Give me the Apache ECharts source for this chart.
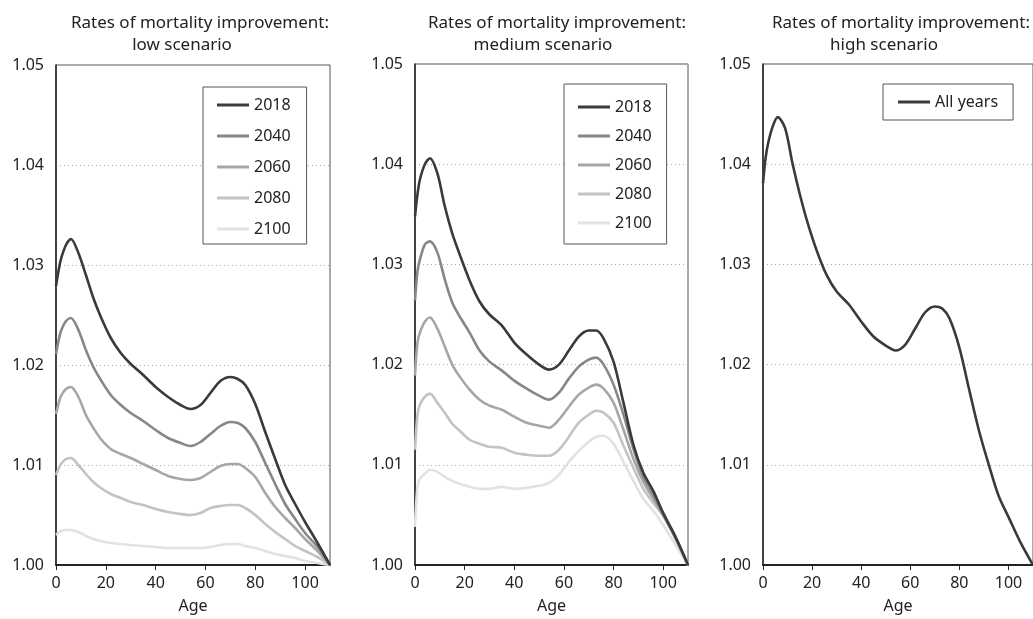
<!DOCTYPE html>
<html>
<head>
<meta charset="utf-8">
<title>Rates of mortality improvement</title>
<script src="https://cdn.jsdelivr.net/npm/echarts@6/dist/echarts.min.js"></script>
<style>
  html, body { margin: 0; padding: 0; background: #fff; }
  #chart { width: 1033px; height: 619px; }
</style>
</head>
<body>
<div id="chart"></div>
<script>
// ages (shared by all three panels)
const ages = [0, 1, 2, 4, 6, 9, 12, 15, 18, 22, 26, 30, 35, 40, 45, 50, 54, 58, 62, 66, 70, 73, 76, 80, 84, 88, 92, 96, 100, 105, 110]

const years = ['2018', '2040', '2060', '2080', '2100']
const yearColors = ['#3a3a3a', '#878787', '#a6a6a6', '#c3c3c3', '#e2e2e2']

// low scenario
const low2018 = [1.0279, 1.0294, 1.0306, 1.0320, 1.0326, 1.0312, 1.0290, 1.0267, 1.0248, 1.0227, 1.0212, 1.0201, 1.0190, 1.0178, 1.0168, 1.0160, 1.0156, 1.0160, 1.0172, 1.0184, 1.0188, 1.0186, 1.0180, 1.0161, 1.0133, 1.0106, 1.0080, 1.0061, 1.0043, 1.0022, 1.0000]
const low2040 = [1.0211, 1.0224, 1.0234, 1.0244, 1.0247, 1.0235, 1.0215, 1.0198, 1.0185, 1.0170, 1.0160, 1.0152, 1.0144, 1.0135, 1.0127, 1.0122, 1.0119, 1.0123, 1.0131, 1.0139, 1.0143, 1.0142, 1.0137, 1.0123, 1.0102, 1.0081, 1.0061, 1.0046, 1.0032, 1.0018, 1.0000]
const low2060 = [1.0151, 1.0161, 1.0169, 1.0176, 1.0178, 1.0168, 1.0150, 1.0137, 1.0126, 1.0116, 1.0111, 1.0107, 1.0101, 1.0095, 1.0089, 1.0086, 1.0085, 1.0087, 1.0093, 1.0099, 1.0101, 1.0101, 1.0097, 1.0088, 1.0072, 1.0058, 1.0047, 1.0037, 1.0026, 1.0014, 1.0000]
const low2080 = [1.0090, 1.0096, 1.0101, 1.0106, 1.0107, 1.0100, 1.0091, 1.0083, 1.0077, 1.0071, 1.0067, 1.0063, 1.0060, 1.0056, 1.0053, 1.0051, 1.0050, 1.0052, 1.0057, 1.0059, 1.0060, 1.0060, 1.0057, 1.0050, 1.0041, 1.0033, 1.0026, 1.0019, 1.0014, 1.0008, 1.0000]
const low2100 = [1.0030, 1.0032, 1.0034, 1.0035, 1.0035, 1.0033, 1.0029, 1.0026, 1.0024, 1.0022, 1.0021, 1.0020, 1.0019, 1.0018, 1.0017, 1.0017, 1.0017, 1.0017, 1.0018, 1.0020, 1.0021, 1.0021, 1.0019, 1.0017, 1.0014, 1.0011, 1.0009, 1.0007, 1.0004, 1.0002, 1.0000]

// medium scenario
const med2018 = [1.0348, 1.0370, 1.0385, 1.0400, 1.0406, 1.0391, 1.0358, 1.0331, 1.0310, 1.0284, 1.0263, 1.0250, 1.0239, 1.0222, 1.0210, 1.0200, 1.0195, 1.0200, 1.0214, 1.0228, 1.0234, 1.0234, 1.0226, 1.0203, 1.0162, 1.0120, 1.0092, 1.0074, 1.0052, 1.0028, 1.0000]
const med2040 = [1.0264, 1.0293, 1.0305, 1.0320, 1.0323, 1.0312, 1.0285, 1.0262, 1.0248, 1.0232, 1.0214, 1.0203, 1.0194, 1.0184, 1.0176, 1.0169, 1.0165, 1.0172, 1.0186, 1.0198, 1.0205, 1.0207, 1.0200, 1.0180, 1.0150, 1.0116, 1.0088, 1.0070, 1.0050, 1.0027, 1.0000]
const med2060 = [1.0189, 1.0222, 1.0232, 1.0243, 1.0247, 1.0236, 1.0218, 1.0200, 1.0188, 1.0175, 1.0165, 1.0159, 1.0155, 1.0148, 1.0142, 1.0139, 1.0137, 1.0145, 1.0158, 1.0170, 1.0177, 1.0180, 1.0176, 1.0162, 1.0135, 1.0106, 1.0083, 1.0066, 1.0050, 1.0026, 1.0000]
const med2080 = [1.0115, 1.0150, 1.0160, 1.0168, 1.0171, 1.0162, 1.0152, 1.0141, 1.0134, 1.0125, 1.0121, 1.0118, 1.0117, 1.0112, 1.0110, 1.0109, 1.0109, 1.0115, 1.0128, 1.0142, 1.0150, 1.0154, 1.0152, 1.0142, 1.0119, 1.0097, 1.0076, 1.0062, 1.0049, 1.0028, 1.0000]
const med2100 = [1.0038, 1.0078, 1.0086, 1.0091, 1.0095, 1.0093, 1.0088, 1.0084, 1.0081, 1.0078, 1.0076, 1.0076, 1.0078, 1.0076, 1.0077, 1.0079, 1.0082, 1.0090, 1.0103, 1.0114, 1.0123, 1.0128, 1.0129, 1.0121, 1.0103, 1.0084, 1.0066, 1.0054, 1.0040, 1.0020, 1.0000]

// high scenario
const highAll = [1.0381, 1.0405, 1.0420, 1.0438, 1.0447, 1.0436, 1.0401, 1.0370, 1.0343, 1.0313, 1.0289, 1.0273, 1.0260, 1.0243, 1.0228, 1.0219, 1.0214, 1.0220, 1.0236, 1.0252, 1.0258, 1.0256, 1.0246, 1.0217, 1.0175, 1.0134, 1.0100, 1.0069, 1.0048, 1.0022, 1.0000]

const xTicks = [0, 20, 40, 60, 80, 100]
const yTicks = [1.00, 1.01, 1.02, 1.03, 1.04, 1.05]

const titleLine1 = 'Rates of mortality improvement:'
const panelTitles = ['low scenario', 'medium scenario', 'high scenario']

const FONT = '"Noto Sans", "Open Sans", sans-serif'

const grids = [
  { left: 56, top: 65, width: 274, height: 504 },
  { left: 415, top: 64, width: 273, height: 506 },
  { left: 763, top: 64, width: 275, height: 508 }
]

function pairs(vals) {
  return ages.map((a, i) => [a, vals[i]])
}

function xAxis(idx) {
  return {
    type: 'value',
    gridIndex: idx,
    min: 0,
    max: 110,
    interval: 20,
    name: 'Age',
    nameLocation: 'middle',
    nameGap: 33,
    nameTextStyle: { fontFamily: FONT, fontSize: 16, color: '#222' },
    axisLine: { show: true, lineStyle: { color: '#222', width: 2 } },
    axisTick: { show: true, length: 5, lineStyle: { color: '#222' } },
    axisLabel: {
      margin: 10,
      fontFamily: FONT,
      fontSize: 16,
      color: '#222',
      showMaxLabel: false,
      formatter: v => (xTicks.indexOf(v) >= 0 ? String(v) : '')
    },
    splitLine: { show: false }
  }
}

function yAxis(idx) {
  return {
    type: 'value',
    gridIndex: idx,
    min: 1.0,
    max: 1.05,
    interval: 0.01,
    axisLine: { show: true, lineStyle: { color: '#222', width: 1.5 } },
    axisTick: { show: false },
    axisLabel: {
      margin: 12,
      fontFamily: FONT,
      fontSize: 16,
      color: '#222',
      formatter: v => {
        const t = yTicks.find(k => Math.abs(k - v) < 1e-6)
        return t === undefined ? '' : t.toFixed(2)
      }
    },
    splitLine: { show: true, lineStyle: { color: '#a8a8a8', width: 1, type: [1, 3] } }
  }
}

function lineSeries(name, vals, color, idx) {
  return {
    name: name,
    type: 'line',
    xAxisIndex: idx,
    yAxisIndex: idx,
    data: pairs(vals),
    smooth: 0.3,
    symbol: 'none',
    color: color,
    lineStyle: { width: 2.6, color: color },
    animation: false
  }
}

const lowData = [low2018, low2040, low2060, low2080, low2100]
const medData = [med2018, med2040, med2060, med2080, med2100]

const series = []
// draw lightest first so the dark line sits on top
for (let i = years.length - 1; i >= 0; i--) {
  series.push(lineSeries(years[i], lowData[i], yearColors[i], 0))
}
for (let i = years.length - 1; i >= 0; i--) {
  series.push(lineSeries(years[i], medData[i], yearColors[i], 1))
}
series.push(lineSeries('All years', highAll, yearColors[0], 2))

const legendBase = {
  orient: 'vertical',
  icon: 'rect',
  itemWidth: 32,
  itemHeight: 3,
  backgroundColor: '#fff',
  borderColor: '#555',
  borderWidth: 1,
  selectedMode: false,
  textStyle: { fontFamily: FONT, fontSize: 16, color: '#222', lineHeight: 20 }
}

const titleCenters = [[200, 182], [557, 543], [901, 884]]
const graphic = []
titleCenters.forEach((c, i) => {
  graphic.push({
    type: 'text', x: c[0], y: 23,
    style: { text: titleLine1, fontFamily: FONT, fontSize: 17, fill: '#222', textAlign: 'center', textVerticalAlign: 'middle' }
  })
  graphic.push({
    type: 'text', x: c[1], y: 45,
    style: { text: panelTitles[i], fontFamily: FONT, fontSize: 17, fill: '#222', textAlign: 'center', textVerticalAlign: 'middle' }
  })
})

const option = {
  animation: false,
  grid: grids.map(g => Object.assign({ show: true, borderColor: '#555', borderWidth: 1, backgroundColor: 'transparent' }, g)),
  xAxis: [xAxis(0), xAxis(1), xAxis(2)],
  yAxis: [yAxis(0), yAxis(1), yAxis(2)],
  legend: [
    Object.assign({}, legendBase, { left: 203, top: 87, itemGap: 11, padding: [8, 16, 5, 14], data: years }),
    Object.assign({}, legendBase, { left: 564, top: 84, itemGap: 9, padding: [13, 15, 11, 14], data: years }),
    Object.assign({}, legendBase, { left: 883, top: 84, itemGap: 9, padding: [8, 15, 8, 15], data: ['All years'] })
  ],
  graphic: graphic,
  series: series
}

const chart = echarts.init(document.getElementById('chart'), null, { renderer: 'canvas' })
chart.setOption(option)
</script>
</body>
</html>
